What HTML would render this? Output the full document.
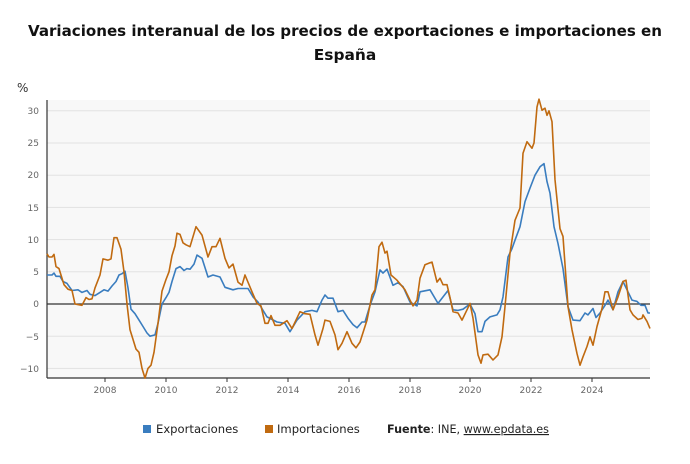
<!DOCTYPE html>
<html><head><meta charset="utf-8"><style>
body{margin:0;background:#fff;font-family:"DejaVu Sans","Liberation Sans",sans-serif}
</style></head><body>
<svg width="690" height="460" xmlns="http://www.w3.org/2000/svg" font-family="DejaVu Sans, Liberation Sans, sans-serif">
<text x="345" y="36" text-anchor="middle" font-size="15.4" font-weight="bold" fill="#111" textLength="634" lengthAdjust="spacingAndGlyphs">Variaciones interanual de los precios de exportaciones e importaciones en</text>
<text x="345" y="60" text-anchor="middle" font-size="15.4" font-weight="bold" fill="#111">España</text>
<text x="17" y="92" font-size="12" fill="#333">%</text>
<rect x="47" y="100" width="603" height="278" fill="#f8f8f8"/>
<g stroke="#e2e2e2" stroke-width="1">
<line x1="47" x2="650" y1="110.8" y2="110.8"/><line x1="47" x2="650" y1="143" y2="143"/>
<line x1="47" x2="650" y1="175.2" y2="175.2"/><line x1="47" x2="650" y1="207.4" y2="207.4"/>
<line x1="47" x2="650" y1="239.6" y2="239.6"/><line x1="47" x2="650" y1="271.8" y2="271.8"/>
<line x1="47" x2="650" y1="336.2" y2="336.2"/><line x1="47" x2="650" y1="368.4" y2="368.4"/>
</g>
<g font-size="9" fill="#666" text-anchor="end">
<text x="39" y="114">30</text><text x="39" y="146">25</text><text x="39" y="178">20</text>
<text x="39" y="211">15</text><text x="39" y="243">10</text><text x="39" y="275">5</text>
<text x="39" y="307">0</text><text x="39" y="340">−5</text><text x="39" y="372">−10</text>
</g>
<g font-size="9" fill="#666" text-anchor="middle">
<text x="105" y="393">2008</text><text x="166" y="393">2010</text><text x="227" y="393">2012</text>
<text x="288" y="393">2014</text><text x="349" y="393">2016</text><text x="410" y="393">2018</text>
<text x="470" y="393">2020</text><text x="531" y="393">2022</text><text x="592" y="393">2024</text>
</g>
<g stroke="#333" stroke-width="1"><line x1="105" x2="105" y1="378" y2="382"/><line x1="166" x2="166" y1="378" y2="382"/><line x1="227" x2="227" y1="378" y2="382"/><line x1="288" x2="288" y1="378" y2="382"/><line x1="349" x2="349" y1="378" y2="382"/><line x1="410" x2="410" y1="378" y2="382"/><line x1="470" x2="470" y1="378" y2="382"/><line x1="531" x2="531" y1="378" y2="382"/><line x1="592" x2="592" y1="378" y2="382"/></g>
<line x1="47" x2="650" y1="378" y2="378" stroke="#333" stroke-width="1.2"/>
<line x1="47" x2="47" y1="100" y2="378" stroke="#333" stroke-width="1.2"/>
<line x1="47" x2="650" y1="304" y2="304" stroke="#333" stroke-width="1.2"/>
<polyline id="ex" fill="none" stroke="#3a7dbf" stroke-width="1.6" stroke-linejoin="round"/>
<polyline id="im" fill="none" stroke="#c06a10" stroke-width="1.6" stroke-linejoin="round"/>
<rect x="143" y="425" width="8" height="8" fill="#3a7dbf"/>
<text x="156" y="433" font-size="11.6" fill="#222">Exportaciones</text>
<rect x="265" y="425" width="8" height="8" fill="#c06a10"/>
<text x="277" y="433" font-size="11.6" fill="#222">Importaciones</text>
<text x="387" y="433" font-size="11.6" fill="#222" textLength="162" lengthAdjust="spacingAndGlyphs"><tspan font-weight="bold">Fuente</tspan>: INE, <tspan text-decoration="underline">www.epdata.es</tspan></text>
</svg>
<script>
function pts(a){var s=[];for(var i=0;i<a.length;i+=2){s.push(a[i]+","+(304-a[i+1]*6.44).toFixed(1));}return s.join(" ");}
var ex=[47,4.5,52,4.5,54,4.8,56,4.3,60,4.3,63,3.5,67,3.2,72,2.1,78,2.2,82,1.8,87,2.1,90,1.5,95,1.3,100,1.8,104,2.2,108,2.0,112,2.8,116,3.5,119,4.5,122,4.7,125,5.1,128,2.5,131,-0.8,135,-1.5,139,-2.5,143,-3.5,147,-4.5,150,-5,155,-4.8,158,-3,162,0,166,1,169,1.8,172,3.5,176,5.5,180,5.8,184,5.2,187,5.5,190,5.4,194,6.2,197,7.6,202,7.1,208,4.2,213,4.5,220,4.2,225,2.6,233,2.2,238,2.4,248,2.4,253,1.1,258,0.3,267,-2,277,-2.8,285,-3,290,-4.3,297,-2.5,305,-1.2,312,-1,317,-1.2,322,0.6,325,1.4,328,0.9,333,0.9,338,-1.2,343,-1,348,-2.2,353,-3.2,357,-3.7,362,-2.8,365,-2.8,370,-0.2,375,1.9,380,5.3,383,4.8,387,5.4,393,2.9,398,3.3,403,2.7,410,0.3,417,-0.3,420,1.9,430,2.2,438,0.1,448,2.1,453,-0.9,458,-1.0,463,-0.8,470,0,475,-1.5,478,-4.3,482,-4.3,485,-2.7,490,-2.0,497,-1.7,500,-0.9,503,1.1,508,7.3,512,8.6,515,9.9,520,12.0,525,15.9,530,18.0,535,20.0,540,21.3,544,21.8,547,19.0,550,17.2,554,12.0,558,9.4,563,5.5,568,-0.4,573,-2.5,580,-2.6,585,-1.4,588,-1.7,593,-0.7,596,-2.1,600,-1.4,605,-0.2,608,0.6,613,-0.9,618,1.9,623,3.5,627,2.2,632,0.6,637,0.4,641,-0.2,645,-0.2,648,-1.4,650,-1.4];
var im=[47,7.8,49,7.3,52,7.3,54,7.7,56,5.8,59,5.5,62,4,64,3,68,2.3,72,2.1,75,0,78,-0.1,82,-0.2,86,1,89,0.7,92,0.8,95,2.5,100,4.5,103,7,108,6.8,111,7,114,10.3,117,10.3,121,8.5,124,5,127,0,130,-4,133,-5.5,136,-7,139,-7.5,142,-10,145,-11.5,148,-10,151,-9.5,154,-7.5,158,-3,162,2,166,3.8,169,5,172,7.5,175,9,177,11,180,10.8,183,9.5,186,9.2,190,8.9,196,12,202,10.7,208,7.3,212,8.9,216,8.9,220,10.2,225,7.1,229,5.6,233,6.2,238,3.4,242,2.9,245,4.5,252,1.9,257,0.1,261,-0.3,265,-3,268,-3,271,-1.8,275,-3.3,280,-3.3,287,-2.6,292,-3.8,300,-1.2,305,-1.5,310,-1.6,315,-4.8,318,-6.4,323,-3.8,325,-2.5,330,-2.7,335,-4.8,338,-7.1,342,-6.1,347,-4.3,352,-6.1,356,-6.8,360,-5.9,367,-2.5,372,1.4,375,2.2,379,8.9,382,9.6,385,7.9,387,8.2,391,4.5,397,3.7,405,2.2,410,0.6,413,-0.3,417,0.6,420,4.0,425,6.1,430,6.4,432,6.5,437,3.4,440,4.0,443,3.0,447,3.0,450,1.0,453,-1.2,458,-1.4,462,-2.5,467,-0.9,470,0.1,473,-2.2,478,-7.9,481,-9.2,483,-7.9,488,-7.8,493,-8.7,498,-7.9,502,-5.1,505,-0.4,510,7.9,515,13.0,520,14.9,523,23.4,527,25.2,532,24.2,534,25,537,30.6,539,31.8,542,30.1,545,30.4,547,29.3,549,30,552,28.3,555,19.3,560,11.7,563,10.5,568,-0.4,572,-4.0,577,-7.7,580,-9.5,583,-8.2,587,-6.6,590,-5.1,593,-6.4,597,-3.5,602,-0.7,605,1.9,608,1.9,613,-0.9,618,1.1,623,3.5,626,3.7,630,-0.9,633,-1.7,638,-2.4,642,-2.2,643,-1.7,647,-2.7,650,-3.8];
document.getElementById("ex").setAttribute("points",pts(ex));
document.getElementById("im").setAttribute("points",pts(im));
</script>
</body></html>
